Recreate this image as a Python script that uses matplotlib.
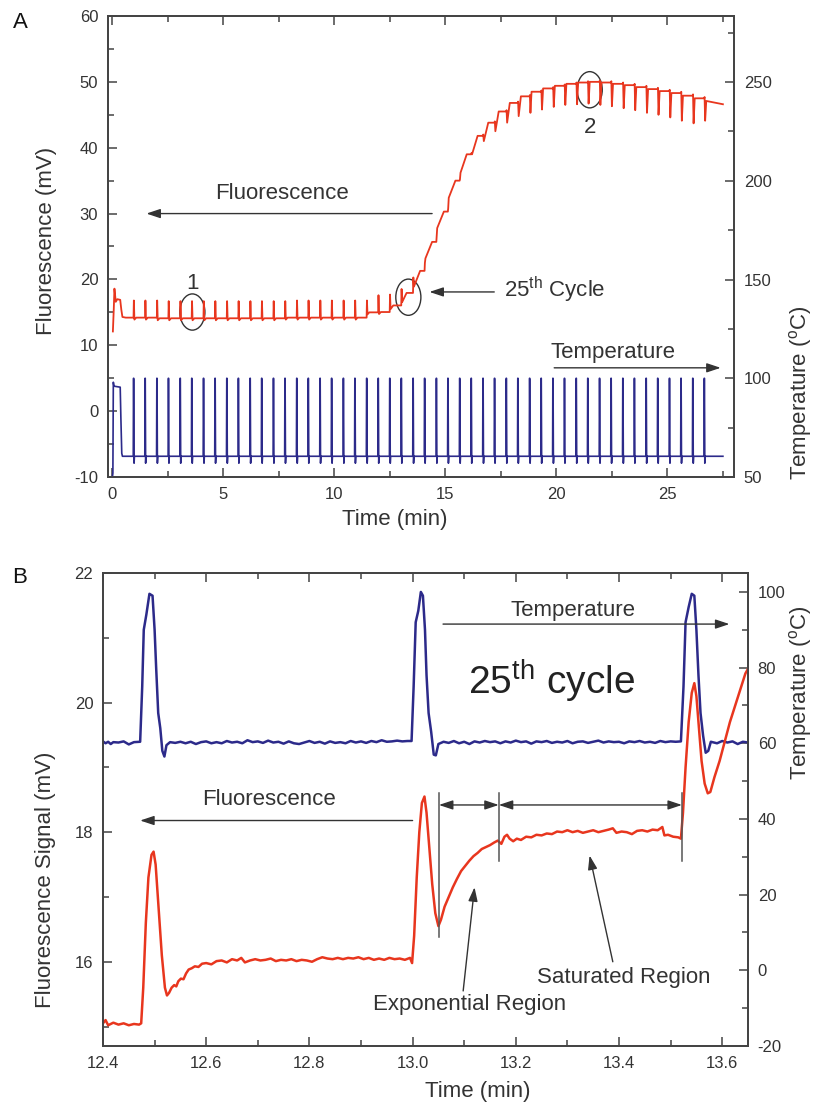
import matplotlib.pyplot as plt
import numpy as np
import matplotlib.ticker as ticker
from matplotlib.patches import Ellipse

plt.rcParams['font.family'] = 'Liberation Sans'
plt.rcParams['mathtext.fontset'] = 'custom'
plt.rcParams['mathtext.rm'] = 'Liberation Sans'
plt.rcParams['mathtext.it'] = 'Liberation Sans:italic'
plt.rcParams['axes.unicode_minus'] = False

######### Panel A: 50 cycles #########

# time of each thermal cycle spike (min)
cyc_t = [0.95, 1.47, 2.00, 2.52, 3.05, 3.57, 4.10, 4.62, 5.15, 5.67,
         6.20, 6.72, 7.25, 7.77, 8.30, 8.82, 9.35, 9.87, 10.40, 10.92,
         11.45, 11.97, 12.49, 13.01, 13.54, 14.06, 14.59, 15.11, 15.64, 16.16,
         16.69, 17.21, 17.74, 18.26, 18.79, 19.31, 19.84, 20.36, 20.89, 21.41,
         21.94, 22.46, 22.99, 23.51, 24.04, 24.56, 25.09, 25.61, 26.14, 26.66]
# fluorescence plateau after each cycle (mV)
fl_level = [14.2, 14.2, 14.1, 14.1, 14.1, 14.1, 14.1, 14.1, 14.1, 14.1,
            14.1, 14.1, 14.1, 14.2, 14.2, 14.2, 14.2, 14.2, 14.2, 14.2,
            15.0, 15.05, 16.05, 17.95, 21.3, 25.7, 30.3, 35.0, 39.0, 41.8,
            43.8, 45.5, 46.8, 47.8, 48.5, 49.0, 49.4, 49.7, 49.9, 50.0,
            49.9, 49.7, 49.5, 49.2, 48.9, 48.6, 48.3, 47.9, 47.5, 47.1]
# upward spike above previous plateau (mV)
fl_up = [2.6] * 22 + [2.65, 2.5, 2.35, 1.2, 0.8, 0.5] + [0.2] * 22
# dip below the new plateau (mV)
fl_dip = [0.3] * 22 + [0.55, 1.4, 2.4, 2.5, 2.5, 2.6, 2.8, 2.8, 2.8, 3.0,
                       3.0, 3.0, 3.2, 3.2, 3.2, 3.2, 3.3, 3.3, 3.4, 3.4,
                       3.5, 3.5, 3.6, 3.6, 3.7, 3.8, 3.8, 3.0]
# time to recover from the dip to the plateau (min)
fl_rec = [0.08] * 22 + [0.12, 0.2, 0.28, 0.3, 0.3, 0.3, 0.28, 0.25, 0.2, 0.15,
                        0.12, 0.1] + [0.05] * 16
fl_init_t = [0.02, 0.06, 0.09, 0.15, 0.22, 0.35, 0.40, 0.45, 0.60]
fl_init_v = [12.1, 15.5, 18.6, 16.6, 17.0, 16.9, 15.4, 14.3, 14.2]
fl_end = (27.5, 46.6)

temp_init_t = [0.0, 0.02, 0.04, 0.07, 0.35, 0.38, 0.42, 0.45]
temp_init_v = [50.0, 52.0, 98.0, 96.0, 95.5, 80.0, 62.0, 60.5]
temp_base = 60.5
temp_peak = 100.0
temp_low = 57.0
temp_end = 27.5

######### Panel B: 25th cycle zoom #########

tB_temp = [12.400, 12.405, 12.410, 12.415, 12.420, 12.430, 12.440, 12.450, 12.460, 12.472,
           12.476, 12.479, 12.484, 12.490, 12.496, 12.500, 12.503, 12.507, 12.511, 12.515,
           12.519, 12.523, 12.530, 12.540, 12.550, 12.560, 12.570, 12.580, 12.590, 12.600,
           12.610, 12.620, 12.630, 12.640, 12.650, 12.660, 12.670, 12.680, 12.690, 12.700,
           12.710, 12.720, 12.730, 12.740, 12.750, 12.760, 12.770, 12.780, 12.790, 12.800,
           12.810, 12.820, 12.830, 12.840, 12.850, 12.860, 12.870, 12.880, 12.890, 12.900,
           12.910, 12.920, 12.930, 12.940, 12.950, 12.960, 12.970, 12.980, 12.990, 12.998,
           13.002, 13.006, 13.011, 13.016, 13.020, 13.024, 13.027, 13.031, 13.036, 13.041,
           13.045, 13.050, 13.060, 13.070, 13.080, 13.090, 13.100, 13.110, 13.120, 13.130,
           13.140, 13.150, 13.160, 13.170, 13.180, 13.190, 13.200, 13.210, 13.220, 13.230,
           13.240, 13.250, 13.260, 13.270, 13.280, 13.290, 13.300, 13.310, 13.320, 13.330,
           13.340, 13.350, 13.360, 13.370, 13.380, 13.390, 13.400, 13.410, 13.420, 13.430,
           13.440, 13.450, 13.460, 13.470, 13.480, 13.490, 13.500, 13.510, 13.520,
           13.525, 13.529, 13.535, 13.541, 13.546, 13.550, 13.554, 13.558, 13.563, 13.568,
           13.573, 13.578, 13.590, 13.600, 13.610, 13.620, 13.630, 13.640, 13.650]
vB_temp = [60.5, 60.0, 60.4, 59.8, 60.3, 60.2, 60.5, 59.7, 60.3, 60.4,
           75.0, 90.0, 94.0, 99.5, 99.0, 90.0, 80.0, 68.0, 64.0, 58.0,
           56.5, 59.5, 60.3, 60.1, 60.4, 60.0, 60.4, 59.8, 60.3, 60.5,
           60.0, 60.3, 60.0, 60.6, 60.2, 60.4, 60.0, 60.8, 60.3, 60.5,
           60.1, 60.7, 60.2, 60.4, 59.9, 60.5, 60.0, 59.8, 60.2, 60.6,
           60.1, 60.4, 59.9, 60.5, 60.1, 60.3, 60.0, 60.6, 60.2, 60.5,
           60.1, 60.6, 60.3, 60.8, 60.4, 60.5, 60.7, 60.5, 60.6, 60.6,
           75.0, 92.0, 95.0, 100.0, 99.0, 90.0, 78.0, 68.0, 63.0, 57.0,
           56.8, 59.8, 60.4, 60.1, 60.6, 60.0, 60.4, 59.8, 60.5, 60.2,
           60.6, 60.3, 60.5, 60.0, 60.5, 60.2, 60.7, 60.3, 60.5, 59.9,
           60.5, 60.3, 60.6, 60.1, 60.4, 60.2, 60.6, 60.0, 60.4, 60.5,
           60.1, 60.4, 60.7, 60.2, 60.5, 60.3, 60.4, 60.0, 60.5, 60.3,
           60.6, 60.2, 60.4, 60.1, 60.6, 60.3, 60.5, 60.4, 60.5,
           75.0, 92.0, 96.0, 99.5, 99.0, 90.0, 78.0, 68.0, 62.0, 57.5,
           58.0, 60.4, 60.0, 60.6, 60.2, 60.5, 59.8, 60.4, 60.2]

tB_fl = [12.400, 12.405, 12.410, 12.420, 12.430, 12.440, 12.450, 12.460, 12.470, 12.474,
         12.478, 12.483, 12.488, 12.494, 12.498, 12.502, 12.508, 12.514, 12.520, 12.524,
         12.528, 12.533, 12.538, 12.542, 12.546, 12.551, 12.556, 12.561, 12.566, 12.572,
         12.578, 12.585, 12.592, 12.600, 12.610, 12.620, 12.630, 12.640, 12.650, 12.660,
         12.668, 12.675, 12.685, 12.695, 12.705, 12.715, 12.725, 12.735, 12.745, 12.755,
         12.765, 12.775, 12.785, 12.795, 12.805, 12.815, 12.825, 12.835, 12.845, 12.855,
         12.865, 12.875, 12.885, 12.895, 12.905, 12.915, 12.925, 12.935, 12.945, 12.955,
         12.965, 12.975, 12.985, 12.995, 12.999, 13.003, 13.008, 13.013, 13.018, 13.023,
         13.027, 13.032, 13.038, 13.044, 13.050, 13.055, 13.062, 13.070, 13.078, 13.086,
         13.094, 13.102, 13.110, 13.118, 13.126, 13.134, 13.142, 13.150, 13.158, 13.165,
         13.172, 13.178, 13.183, 13.188, 13.195, 13.202, 13.210, 13.220, 13.230, 13.240,
         13.250, 13.260, 13.270, 13.280, 13.290, 13.300, 13.310, 13.320, 13.330, 13.340,
         13.350, 13.360, 13.370, 13.380, 13.388, 13.395, 13.405, 13.415, 13.425, 13.435,
         13.445, 13.455, 13.465, 13.475, 13.484, 13.488, 13.495, 13.505, 13.515, 13.520,
         13.524, 13.529, 13.535, 13.541, 13.546, 13.550, 13.555, 13.560, 13.566, 13.572,
         13.577, 13.585, 13.595, 13.605, 13.615, 13.625, 13.635, 13.645, 13.650]
vB_fl = [15.05, 15.10, 15.02, 15.06, 15.03, 15.05, 15.02, 15.04, 15.03, 15.05,
         15.60, 16.60, 17.30, 17.65, 17.70, 17.50, 16.80, 16.10, 15.60, 15.48,
         15.52, 15.60, 15.64, 15.62, 15.70, 15.74, 15.73, 15.82, 15.88, 15.90,
         15.93, 15.92, 15.97, 15.98, 15.96, 16.01, 16.02, 15.99, 16.04, 16.02,
         16.06, 15.99, 16.02, 16.04, 16.02, 16.03, 16.05, 16.01, 16.03, 16.02,
         16.04, 16.01, 16.03, 16.02, 16.00, 16.04, 16.07, 16.05, 16.04, 16.06,
         16.04, 16.06, 16.05, 16.07, 16.04, 16.06, 16.03, 16.05, 16.03, 16.06,
         16.04, 16.05, 16.03, 16.06, 15.98, 16.40, 17.30, 18.00, 18.45, 18.55,
         18.30, 17.80, 17.20, 16.75, 16.55, 16.65, 16.85, 17.00, 17.15, 17.28,
         17.40, 17.48, 17.56, 17.63, 17.68, 17.74, 17.77, 17.80, 17.84, 17.87,
         17.82, 17.93, 17.96, 17.90, 17.86, 17.90, 17.88, 17.93, 17.92, 17.96,
         17.95, 17.98, 17.97, 18.01, 18.00, 18.03, 18.00, 18.02, 17.99, 18.01,
         18.03, 18.00, 18.02, 18.04, 18.06, 17.99, 18.01, 18.00, 17.97, 18.02,
         18.03, 18.01, 18.04, 18.03, 18.08, 17.95, 17.96, 17.93, 17.92, 17.90,
         18.30, 19.00, 19.70, 20.15, 20.30, 20.10, 19.60, 19.10, 18.75, 18.60,
         18.62, 18.85, 19.10, 19.40, 19.70, 19.95, 20.20, 20.45, 20.52]

region_bounds = [13.051, 13.167, 13.522]

red = '#e8361e'
blue = '#2c2a8a'
grey = '#333333'
fsize = 16
fsize2 = 12

def style(ax, axr):
    for a in (ax, axr):
        for s in a.spines.values():
            s.set_color('#444444')
            s.set_linewidth(1.3)
    ax.tick_params(which='both', direction='in', top=True, right=False,
                   colors='#444444', labelcolor=grey, labelsize=fsize2, pad=7)
    axr.tick_params(axis='y', which='both', direction='in', left=False, right=True,
                    colors='#444444', labelcolor=grey, labelsize=fsize2, pad=7)
    for a in (ax, axr):
        a.tick_params(which='major', length=6.5, width=1.1)
        a.tick_params(which='minor', length=4, width=1.1)

arrow = dict(arrowstyle='-|>,head_length=0.6,head_width=0.2', color=grey, lw=1,
             mutation_scale=14, shrinkA=0, shrinkB=0)
darrow = dict(arrowstyle='<|-|>,head_length=0.6,head_width=0.2', color=grey, lw=1,
              mutation_scale=14, shrinkA=0, shrinkB=0)

fig = plt.figure(figsize=(8.14, 11.06), dpi=100)
ax1 = fig.add_axes([108/814, 1-477/1106, 626/814, 461/1106])
ax1r = ax1.twinx()
ax2 = fig.add_axes([103/814, 1-1046/1106, 645/814, 473/1106])
ax2r = ax2.twinx()

#### Panel A traces ####
ta = list(fl_init_t)
fa = list(fl_init_v)
prev = fl_init_v[-1]
for k in range(len(cyc_t)):
    tk = cyc_t[k]
    ta += [tk, tk + 0.015, tk + 0.04, tk + 0.04 + fl_rec[k]]
    fa += [prev, prev + fl_up[k], fl_level[k] - fl_dip[k], fl_level[k]]
    prev = fl_level[k]
ta.append(fl_end[0])
fa.append(fl_end[1])
ax1.plot(ta, fa, color=red, lw=1.3)

tt = list(temp_init_t)
vt = list(temp_init_v)
for tk in cyc_t:
    tt += [tk - 0.012, tk, tk + 0.008, tk + 0.025, tk + 0.04]
    vt += [temp_base, temp_peak, temp_peak, temp_low, temp_base]
tt.append(temp_end)
vt.append(temp_base)
ax1r.plot(tt, vt, color=blue, lw=1.2)

ax1.set_xlim(-0.2, 28)
ax1.set_ylim(-10, 60)
ax1r.set_ylim(50, 283.5)
ax1.xaxis.set_major_locator(ticker.MultipleLocator(5))
ax1.xaxis.set_minor_locator(ticker.MultipleLocator(2.5))
ax1.yaxis.set_major_locator(ticker.MultipleLocator(10))
ax1.yaxis.set_minor_locator(ticker.MultipleLocator(5))
ax1r.yaxis.set_major_locator(ticker.FixedLocator([50, 100, 150, 200, 250]))
ax1r.yaxis.set_minor_locator(ticker.FixedLocator([75, 125, 175, 225, 275]))
style(ax1, ax1r)

ax1.text(7.66, 33.1, 'Fluorescence', fontsize=fsize, color=grey, ha='center', va='center')
ax1.annotate('', xy=(1.53, 30), xytext=(14.4, 30), arrowprops=arrow)
ax1.text(17.66, 18.4, r'25$^{\rm th}$ Cycle', fontsize=fsize, color=grey, ha='left', va='center')
ax1.annotate('', xy=(14.28, 18.1), xytext=(17.2, 18.1), arrowprops=arrow)
ax1r.text(22.57, 113, 'Temperature', fontsize=fsize, color=grey, ha='center', va='center')
ax1r.annotate('', xy=(27.4, 105.3), xytext=(19.9, 105.3), arrowprops=arrow)
ax1.text(3.6, 19.4, '1', fontsize=fsize, color=grey, ha='center', va='center')
ax1.text(21.5, 43.0, '2', fontsize=fsize, color=grey, ha='center', va='center')
for cx, cy in [(3.6, 15.05), (13.33, 17.3), (21.5, 48.8)]:
    ax1.add_patch(Ellipse((cx, cy), 1.13, 5.5, fill=False, edgecolor=grey, lw=1))

#### Panel B traces ####
ax2r.plot(tB_temp, vB_temp, color=blue, lw=1.8)
ax2.plot(tB_fl, vB_fl, color=red, lw=1.8)
ax2.set_zorder(ax2r.get_zorder() + 1)
ax2.patch.set_visible(False)

ax2.set_xlim(12.4, 13.65)
ax2.set_ylim(14.7, 22)
ax2r.set_ylim(-20, 105)
ax2.xaxis.set_major_locator(ticker.MultipleLocator(0.2))
ax2.xaxis.set_minor_locator(ticker.MultipleLocator(0.1))
ax2.xaxis.set_major_formatter(ticker.FormatStrFormatter('%.1f'))
ax2.yaxis.set_major_locator(ticker.MultipleLocator(2))
ax2.yaxis.set_minor_locator(ticker.MultipleLocator(1))
ax2r.yaxis.set_major_locator(ticker.MultipleLocator(20))
ax2r.yaxis.set_minor_locator(ticker.MultipleLocator(10))
style(ax2, ax2r)

ax2.text(12.722, 18.5, 'Fluorescence', fontsize=fsize, color=grey, ha='center', va='center')
ax2.annotate('', xy=(12.472, 18.18), xytext=(13.0, 18.18), arrowprops=arrow)
ax2r.text(13.31, 95.2, 'Temperature', fontsize=fsize, color=grey, ha='center', va='center')
ax2r.annotate('', xy=(13.614, 91.5), xytext=(13.059, 91.5), arrowprops=arrow)
ax2r.text(13.27, 76.3, r'25$^{\rm th}$ cycle', fontsize=28, color='#222222', ha='center', va='center')

ax2.plot([region_bounds[0]] * 2, [16.38, 18.61], color='#555555', lw=1.1)
ax2.plot([region_bounds[1]] * 2, [17.56, 18.61], color='#555555', lw=1.1)
ax2.plot([region_bounds[2]] * 2, [17.56, 18.61], color='#555555', lw=1.1)
ax2.annotate('', xy=(region_bounds[0], 18.42), xytext=(region_bounds[1], 18.42), arrowprops=darrow)
ax2.annotate('', xy=(region_bounds[1], 18.42), xytext=(region_bounds[2], 18.42), arrowprops=darrow)

ax2.text(13.11, 15.34, 'Exponential Region', fontsize=fsize, color=grey, ha='center', va='center')
ax2.annotate('', xy=(13.12, 17.15), xytext=(13.098, 15.55), arrowprops=arrow)
ax2.text(13.41, 15.76, 'Saturated Region', fontsize=fsize, color=grey, ha='center', va='center')
ax2.annotate('', xy=(13.343, 17.64), xytext=(13.388, 16.0), arrowprops=arrow)

#### labels ####
fig.text(20/814, 1-22/1106, 'A', fontsize=fsize, color='#111111', ha='center', va='center')
fig.text(20/814, 1-577/1106, 'B', fontsize=fsize, color='#111111', ha='center', va='center')
fig.text(47/814, 1-241/1106, 'Fluorescence (mV)', fontsize=fsize, color=grey,
         rotation=90, ha='center', va='center')
fig.text(46/814, 1-880/1106, 'Fluorescence Signal (mV)', fontsize=fsize, color=grey,
         rotation=90, ha='center', va='center')
fig.text(395/814, 1-519/1106, 'Time (min)', fontsize=fsize, color=grey, ha='center', va='center')
fig.text(478/814, 1-1092/1106, 'Time (min)', fontsize=fsize, color=grey, ha='center', va='center')
fig.text(800/814, 1-480/1106, r'Temperature ($^{\rm o}$C)', fontsize=fsize, color=grey,
         rotation=90, ha='center', va='bottom')
fig.text(801/814, 1-780/1106, r'Temperature ($^{\rm o}$C)', fontsize=fsize, color=grey,
         rotation=90, ha='center', va='bottom')

fig.savefig('out.png', dpi=100)
